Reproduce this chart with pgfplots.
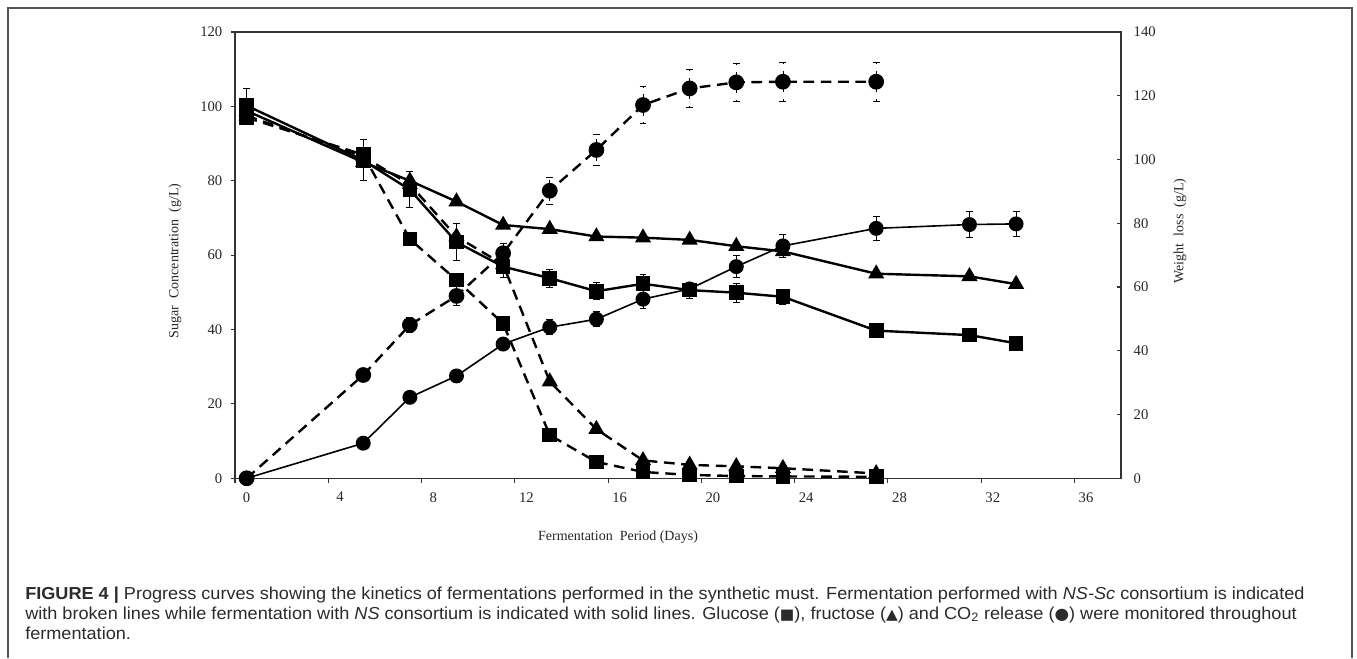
\documentclass[border=0pt]{standalone}
\usepackage{fontspec}
\setmainfont{Liberation Serif}
\newfontfamily\capfont{Liberation Sans}
\newfontfamily\symf{DejaVu Sans}
\usepackage{pgfplots}
\usepackage{pgfplotstable}
\pgfplotsset{compat=1.18}
\definecolor{captxt}{HTML}{2B2B2B}
\definecolor{framec}{HTML}{555555}

% NS (solid) glucose
\pgfplotstableread{
x y e
0 100.2 4.7
5 85.5 5.5
7 77.6 4.8
9 63.5 5.0
11 56.9 2.8
13 53.8 2.5
15 50.3 2.3
17 52.3 2.4
19 50.6 2.2
21 49.9 2.5
23 48.8 2.0
27 39.7 1.8
31 38.5 1.8
33 36.3 1.5
}\glcNS
% NS (solid) fructose
\pgfplotstableread{
x y
0 98.8
5 85.0
7 80.0
9 74.4
11 68.1
13 67.0
15 65.0
17 64.7
19 64.1
21 62.4
23 61.0
27 55.0
31 54.3
33 52.2
}\frcNS
% NS-Sc (dashed) glucose
\pgfplotstableread{
x y
0 97.0
5 87.0
7 64.3
9 53.3
11 41.6
13 11.6
15 4.4
17 1.7
19 0.9
21 0.6
23 0.5
27 0.4
}\glcSc
% NS-Sc (dashed) fructose
\pgfplotstableread{
x y
0 97.5
5 86.5
7 79.0
9 65.0
11 57.5
13 26.0
15 13.2
17 4.8
19 3.6
21 3.2
23 2.7
27 1.3
}\frcSc
% NS (solid) CO2 weight loss
\pgfplotstableread{
x y e
0 0 0
5 11.0 0
7 25.4 0
9 32.1 0
11 42.1 1.5
13 47.4 2.3
15 49.9 2.3
17 56.2 2.8
19 59.4 2.0
21 66.4 3.4
23 72.9 3.6
27 78.4 3.8
31 79.6 4.0
33 79.8 4.0
}\coNS
% NS-Sc (dashed) CO2 weight loss
\pgfplotstableread{
x y e
0 0 0
5 32.4 0
7 48.1 2.3
9 57.2 2.9
11 70.6 3.2
13 90.2 4.2
15 103.0 5.0
17 117.1 5.9
19 122.3 6.0
21 124.2 6.1
23 124.4 6.2
27 124.4 6.2
}\coSc

\begin{document}
\begin{tikzpicture}
\path[use as bounding box] (0pt,0pt) rectangle (1017.75pt,-493.5pt);
\draw[framec, line width=1pt] (6pt,-493.5pt) -- (6pt,-6pt) -- (1014pt,-6pt) -- (1014pt,-493.5pt);

\pgfplotsset{
  every axis/.append style={
    scale only axis, width=664.5pt, height=334.7pt,
    at={(176.25pt,-358.7pt)}, anchor=south west,
    xmin=-0.5, xmax=37.5, ymin=0,
    clip=false,
    axis line style={black!80, line width=0.8pt},
    tick style={black!80, line width=0.8pt},
    /pgf/number format/assume math mode=true,
    ticklabel style={font=\fontsize{11}{13}\selectfont, text=black!85},
  },
  errstyle/.style={error bars/.cd, y dir=both, y explicit,
    error bar style={line width=0.6pt, black},
    error mark options={rotate=90, mark size=2.6pt, line width=0.6pt, black}},
}

\begin{axis}[
  ymax=120, ytick={0,20,...,120},
  xtick={0,4,...,36}, major x tick style={draw=none},
  minor xtick={-0.5,3.5,...,35.5},
  xtick pos=bottom, ytick pos=left,
  tick align=outside, major tick length=3pt, minor tick length=3.5pt,
  xticklabel style={yshift=-4pt},
  yticklabel style={xshift=-3pt},
]
\addplot[black, line width=1.8pt, mark=square*, mark size=4.6pt, mark options={solid}, errstyle]
  table[x=x, y=y, y error=e] {\glcNS};
\addplot[black, line width=1.8pt, mark=triangle*, mark size=5.2pt, mark options={solid}]
  table[x=x, y=y] {\frcNS};
\addplot[black, line width=1.8pt, dash pattern=on 8pt off 5pt, mark=square*, mark size=4.6pt, mark options={solid}]
  table[x=x, y=y] {\glcSc};
\addplot[black, line width=1.8pt, dash pattern=on 8pt off 5pt, mark=triangle*, mark size=5.2pt, mark options={solid}]
  table[x=x, y=y] {\frcSc};
\end{axis}

\begin{axis}[
  ymax=140, ytick={0,20,...,140},
  axis y line*=right, axis x line=none,
  tick align=inside, major tick length=3pt,
  yticklabel style={xshift=6pt},
]
\addplot[black, line width=1.2pt, mark=*, mark size=5pt, mark options={solid}, errstyle]
  table[x=x, y=y, y error=e] {\coNS};
\addplot[black, line width=1.8pt, dash pattern=on 8pt off 5pt, mark=*, mark size=5pt, mark options={solid}, errstyle]
  table[x=x, y=y, y error=e] {\coSc};
\end{axis}

\node[rotate=90, font=\fontsize{10.5}{12}\selectfont, text=black!85] at (131.25pt,-195.75pt) {Sugar\ \ Concentration\ \ (g/L)};
\node[rotate=90, font=\fontsize{10.5}{12}\selectfont, text=black!85] at (885pt,-173.25pt) {Weight\ \ loss\ \ (g/L)};
\node[font=\fontsize{10.5}{12}\selectfont, text=black!85] at (463.5pt,-402.75pt) {Fermentation\ \ Period (Days)};

\begin{scope}[every node/.style={anchor=base west, inner sep=0pt, text=captxt, font=\capfont\fontsize{13}{15}\selectfont}]
\node at (18.75pt,-449.25pt) {\scalebox{1.045}[1]{\textbf{FIGURE 4 |} Progress curves showing the kinetics of fermentations performed in the synthetic must. Fermentation performed with \textit{NS-Sc} consortium is indicated}};
\node at (18.75pt,-464.25pt) {\scalebox{1.045}[1]{with broken lines while fermentation with \textit{NS} consortium is indicated with solid lines. Glucose ({\symf\fontsize{11}{13}\selectfont ■}), fructose ({\symf\fontsize{11}{13}\selectfont ▲}) and CO\textsubscript{2} release ({\symf\fontsize{12}{13}\selectfont ●}) were monitored throughout}};
\node at (18.75pt,-479.25pt) {\scalebox{1.045}[1]{fermentation.}};
\end{scope}
\end{tikzpicture}
\end{document}
